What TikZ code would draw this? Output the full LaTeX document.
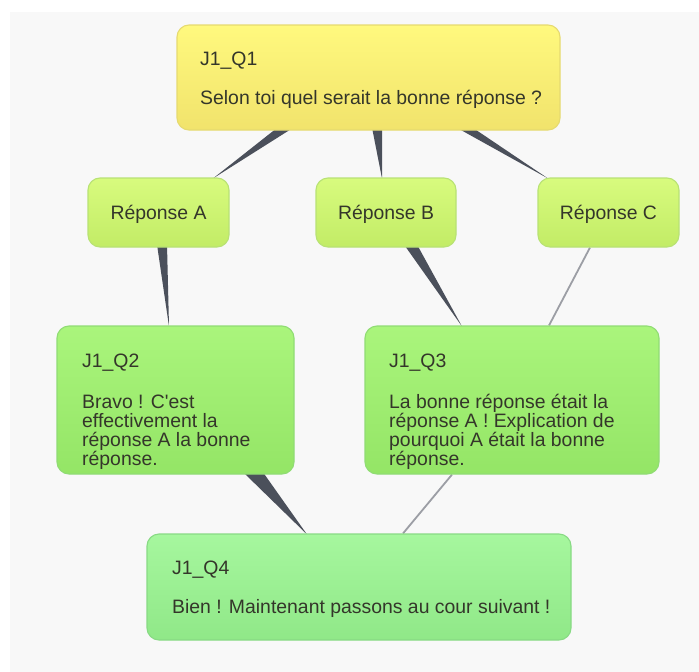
\documentclass[tikz,border=0pt]{standalone}
\usepackage{fontspec}
\setmainfont{Liberation Sans}
\usetikzlibrary{calc}
\pgfdeclarelayer{bgzero}
\pgfdeclarelayer{links}
\pgfsetlayers{bgzero,links,main}
\definecolor{pagebg}{HTML}{F8F8F8}
\definecolor{txtc}{HTML}{34362A}
\definecolor{wedgec}{HTML}{4B505B}
\definecolor{thinc}{HTML}{9C9EA5}
\definecolor{yTop}{HTML}{FFF97E}
\definecolor{yBot}{HTML}{F1E36C}
\definecolor{yBrd}{HTML}{E6DA70}
\definecolor{rTop}{HTML}{D8FB7E}
\definecolor{rBot}{HTML}{C2EC66}
\definecolor{rBrd}{HTML}{B8E274}
\definecolor{gTop}{HTML}{AAF57C}
\definecolor{gBot}{HTML}{94E566}
\definecolor{gBrd}{HTML}{90DC74}
\definecolor{qTop}{HTML}{A6F79E}
\definecolor{qBot}{HTML}{90E888}
\definecolor{qBrd}{HTML}{88DA84}
\begin{document}
\begin{tikzpicture}[x=1pt,y=-1pt,
  box/.style={rectangle, rounded corners=12pt, line width=1.1pt, inner sep=0pt},
  ybox/.style={box, draw=yBrd, top color=yTop, bottom color=yBot},
  rbox/.style={box, draw=rBrd, top color=rTop, bottom color=rBot},
  gbox/.style={box, draw=gBrd, top color=gTop, bottom color=gBot},
  qbox/.style={box, draw=qBrd, top color=qTop, bottom color=qBot},
  txt/.style={anchor=base west, inner sep=0pt, text=txtc, font=\fontsize{19.4}{19}\selectfont},
  ctxt/.style={txt, anchor=base},
  wedge/.style={fill=wedgec, draw=none},
  thin/.style={draw=thinc, line width=1.8pt}
]
\useasboundingbox (0,0) rectangle (699,672);
\begin{pgfonlayer}{bgzero}
\fill[pagebg] (10,12) rectangle (699,672);
\end{pgfonlayer}

% boxes
\node[ybox, minimum width=383pt, minimum height=105pt] (q1) at (368.5,77.5) {};
\node[rbox, minimum width=141pt, minimum height=69pt] (ra) at (158.5,212.5) {};
\node[rbox, minimum width=140pt, minimum height=69pt] (rb) at (386,212.5) {};
\node[rbox, minimum width=141pt, minimum height=69pt] (rc) at (608.5,212.5) {};
\node[gbox, minimum width=237pt, minimum height=148pt] (q2) at (175.5,400) {};
\node[gbox, minimum width=294pt, minimum height=148pt] (q3) at (512,400) {};
\node[qbox, minimum width=424pt, minimum height=106pt] (q4) at (359,587) {};

% texts
\node[txt] (q1t) at (200,65) {J1\_Q1};
\node[txt] (q1a) at (200,104) {Selon toi quel serait la bonne réponse ?};
\node[ctxt] (rat) at (158.5,219) {Réponse A};
\node[ctxt] (rbt) at (386,219) {Réponse B};
\node[ctxt] (rct) at (608.5,219) {Réponse C};
\node[txt] (q2t) at (82,367) {J1\_Q2};
\node[txt] (q2a) at (82,408) {Bravo ! C\textquotesingle est};
\node[txt] (q2b) at (82,427) {effectivement la};
\node[txt] (q2c) at (82,446) {réponse A la bonne};
\node[txt] (q2d) at (82,465) {réponse.};
\node[txt] (q3t) at (389,367) {J1\_Q3};
\node[txt] (q3a) at (389,408) {La bonne réponse était la};
\node[txt] (q3b) at (389,427) {réponse A ! Explication de};
\node[txt] (q3c) at (389,446) {pourquoi A était la bonne};
\node[txt] (q3d) at (389,465) {réponse.};
\node[txt] (q4t) at (172,574) {J1\_Q4};
\node[txt] (q4a) at (172,613) {Bien ! Maintenant passons au cour suivant !};

% connectors
\begin{pgfonlayer}{links}
\fill[wedge] ($(q1.south)+(-91,-3)$) -- ($(q1.south)+(-75,-3)$) -- ($(ra.north)+(54.5,1)$) -- cycle;
\fill[wedge] ($(q1.south)+(3.5,-3)$) -- ($(q1.south)+(13.5,-3)$) -- ($(rb.north)+(-4,1)$) -- cycle;
\fill[wedge] ($(q1.south)+(88,-3)$) -- ($(q1.south)+(104,-3)$) -- ($(rc.north)+(-60.5,1)$) -- cycle;
\fill[wedge] ($(ra.south)+(-1.5,-3)$) -- ($(ra.south)+(8.5,-3)$) -- ($(q2.north)+(-6.5,1)$) -- cycle;
\fill[wedge] ($(rb.south)+(18,-3)$) -- ($(rb.south)+(31,-3)$) -- ($(q3.north)+(-50,1)$) -- cycle;
\fill[wedge] ($(q2.south)+(67,-3)$) -- ($(q2.south)+(87,-3)$) -- ($(q4.north)+(-52,1)$) -- cycle;
\draw[thin] ($(rc.south)+(-18.5,0)$) -- ($(q3.north)+(37,0)$);
\draw[thin] ($(q3.south)+(-60,0)$) -- ($(q4.north)+(44,0)$);
\end{pgfonlayer}
\end{tikzpicture}
\end{document}
